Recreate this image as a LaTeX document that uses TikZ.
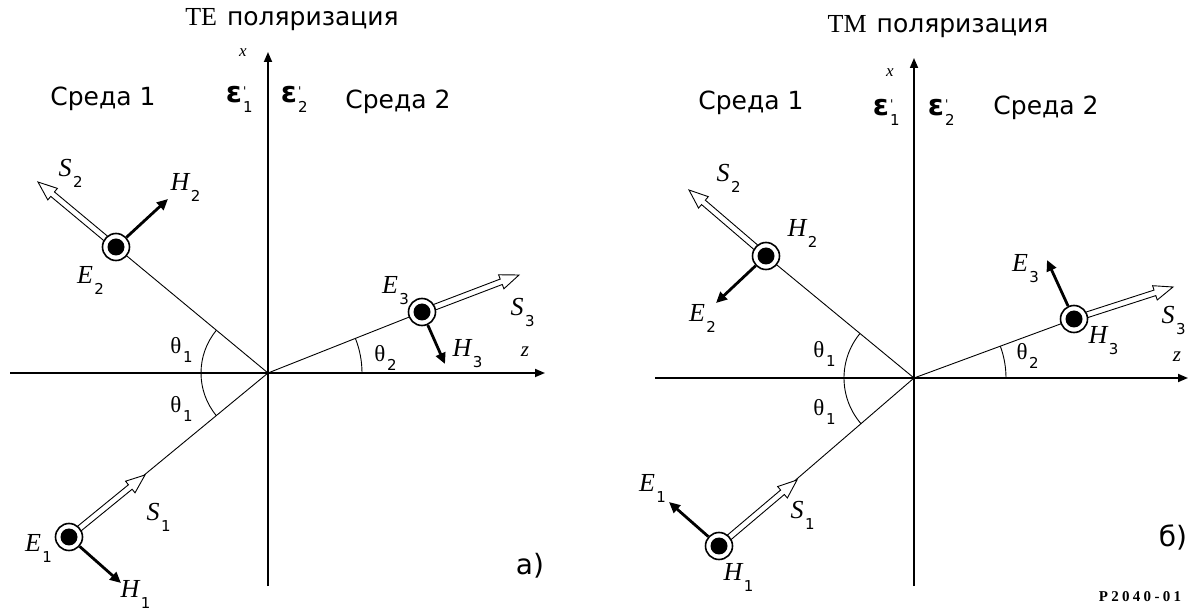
\documentclass[tikz,border=0pt]{standalone}
\usepackage{fontspec}
\setmainfont{Liberation Serif}
\newfontfamily\sansf{DejaVu Sans}
\usetikzlibrary{arrows.meta,calc}
\newcommand{\subf}{\sansf\upshape\mdseries\fontsize{15}{15}\selectfont}
\newcommand{\vl}[2]{{\itshape #1}\rlap{\kern1.5pt\smash{\raisebox{-11pt}{\subf #2}}}}
\newcommand{\thl}[1]{{\fontsize{23}{23}\selectfont θ}\rlap{\kern1.5pt\smash{\raisebox{-9pt}{\subf #1}}}}
\newcommand{\epl}[1]{{\sansf\bfseries\fontsize{29}{29}\selectfont ε}\rlap{\kern1pt\smash{\raisebox{7pt}{\sansf\fontsize{12}{12}\selectfont '}}}\rlap{\kern1pt\smash{\raisebox{-10pt}{\subf #1}}}}
\newcommand{\hollowarrow}[3]{%
  \coordinate (#3h) at ($(#2)!19pt!(#1)$);
  \draw[hollow] ($(#1)!2.9pt!90:(#2)$) -- ($(#3h)!2.9pt!90:(#2)$) -- ($(#3h)!7.5pt!90:(#2)$) -- (#2)
    -- ($(#3h)!7.5pt!-90:(#2)$) -- ($(#3h)!2.9pt!-90:(#2)$) -- ($(#1)!2.9pt!-90:(#2)$) -- cycle;}
\tikzset{
  axis/.style={line width=1.7pt, -{Triangle[length=10pt,width=8pt]}},
  ray/.style={line width=0.9pt},
  angarc/.style={line width=0.9pt},
  field/.style={line width=2.8pt, -{Triangle[length=11pt,width=10pt]}},
  ring/.style={circle, draw, line width=1.6pt, fill=white, minimum size=27pt, inner sep=0pt},
  hollow/.style={line width=0.9pt, fill=white, line join=miter},
  vlabel/.style={inner sep=0pt, font=\fontsize{26}{26}\selectfont},
  sreda/.style={inner sep=0pt, font=\sansf\fontsize{25}{25}\selectfont},
  ttl/.style={inner sep=0pt},
  axlabel/.style={inner sep=0pt, font=\itshape\fontsize{17}{17}\selectfont},
  zlabel/.style={inner sep=0pt, font=\itshape\fontsize{21}{21}\selectfont},
  panel/.style={inner sep=0pt, font=\sansf\fontsize{28}{28}\selectfont}
}
\newcommand{\ttext}[1]{{\fontsize{26}{26}\selectfont #1}\hspace{10pt}{\sansf\fontsize{25}{25}\selectfont поляризация}}
\begin{document}
\begin{tikzpicture}[x=1pt,y=1pt]
\useasboundingbox (0,0) rectangle (1195,611);
\fill[white] (0,0) rectangle (1195,611);
% ================= Panel a =================
\coordinate (Oa) at (268,238);
\coordinate (vtopa) at (268,559);
\coordinate (vbota) at (268,25);
\coordinate (hlefta) at (10,238);
\coordinate (hrighta) at (545,238);
\coordinate (c1a) at (69,74);
\coordinate (c2a) at (116,364);
\coordinate (c3a) at (422,299);
\coordinate (s1at) at (145,136);
\coordinate (s2at) at (38,429);
\coordinate (s3at) at (519,336);
\coordinate (h1at) at (121,28);
\coordinate (h2at) at (168,412);
\coordinate (h3at) at (445,247);
\draw[axis] (vbota) -- (vtopa);
\draw[axis] (hlefta) -- (hrighta);
\draw[ray] (Oa) -- (c1a);
\draw[ray] (Oa) -- (c2a);
\draw[ray] (Oa) -- (c3a);
\draw[angarc] (Oa) ++(140.3:67) arc[start angle=140.3, end angle=219.5, radius=67];
\draw[angarc] (Oa) ++(0:94) arc[start angle=0, end angle=21.6, radius=94];
\coordinate (s1as) at ($(c1a)!12pt!(s1at)$);
\coordinate (s2as) at ($(c2a)!12pt!(s2at)$);
\coordinate (s3as) at ($(c3a)!12pt!(s3at)$);
\hollowarrow{s1as}{s1at}{ha1}
\hollowarrow{s2as}{s2at}{ha2}
\hollowarrow{s3as}{s3at}{ha3}
\node[ring] (C1a) at (c1a) {};
\node[ring] (C2a) at (c2a) {};
\node[ring] (C3a) at (c3a) {};
\fill (C1a.center) circle (8.5);
\fill (C2a.center) circle (8.5);
\fill (C3a.center) circle (8.5);
\draw[field] (C1a) -- (h1at);
\draw[field] (C2a) -- (h2at);
\draw[field] (C3a) -- (h3at);
\node[axlabel] (xa) at (243,558) {x};
\node[zlabel] (za) at (525,259) {z};
\node[vlabel] (epa1) at (234,516) {\epl{1}};
\node[vlabel] (epa2) at (289,516) {\epl{2}};
\node[sreda] (sr1a) at (103,512) {Среда 1};
\node[sreda] (sr2a) at (398,509) {Среда 2};
\node[ttl] (ta) at (292,591) {\ttext{TE}};
\node[vlabel] (le1a) at (33,68) {\vl{E}{1}};
\node[vlabel] (lh1a) at (130,22) {\vl{H}{1}};
\node[vlabel] (ls1a) at (153,99) {\vl{S}{1}};
\node[vlabel] (ls2a) at (65,443) {\vl{S}{2}};
\node[vlabel] (lh2a) at (180,429) {\vl{H}{2}};
\node[vlabel] (le2a) at (85,336) {\vl{E}{2}};
\node[vlabel] (le3a) at (390,326) {\vl{E}{3}};
\node[vlabel] (ls3a) at (517,304) {\vl{S}{3}};
\node[vlabel] (lh3a) at (462,263) {\vl{H}{3}};
\node[vlabel] (t1a) at (176,265) {\thl{1}};
\node[vlabel] (t1b) at (176,206) {\thl{1}};
\node[vlabel] (t2a) at (380,257) {\thl{2}};
\node[panel] (pa) at (530,45) {a)};
% ================= Panel b =================
\coordinate (Ob) at (914,233);
\coordinate (vtopb) at (914,553);
\coordinate (vbotb) at (914,25);
\coordinate (hleftb) at (655,233);
\coordinate (hrightb) at (1188,233);
\coordinate (c1b) at (719,65);
\coordinate (c2b) at (766,355);
\coordinate (c3b) at (1074,292);
\coordinate (s1bt) at (797,131);
\coordinate (s2bt) at (689,421);
\coordinate (s3bt) at (1173,324);
\coordinate (e1bt) at (669,109);
\coordinate (e2bt) at (716,308);
\coordinate (e3bt) at (1047,351);
\draw[axis] (vbotb) -- (vtopb);
\draw[axis] (hleftb) -- (hrightb);
\draw[ray] (Ob) -- (c1b);
\draw[ray] (Ob) -- (c2b);
\draw[ray] (Ob) -- (c3b);
\draw[angarc] (Ob) ++(140.5:70) arc[start angle=140.5, end angle=220.7, radius=70];
\draw[angarc] (Ob) ++(0:92) arc[start angle=0, end angle=20.2, radius=92];
\coordinate (s1bs) at ($(c1b)!12pt!(s1bt)$);
\coordinate (s2bs) at ($(c2b)!12pt!(s2bt)$);
\coordinate (s3bs) at ($(c3b)!12pt!(s3bt)$);
\hollowarrow{s1bs}{s1bt}{hb1}
\hollowarrow{s2bs}{s2bt}{hb2}
\hollowarrow{s3bs}{s3bt}{hb3}
\node[ring] (C1b) at (c1b) {};
\node[ring] (C2b) at (c2b) {};
\node[ring] (C3b) at (c3b) {};
\fill (C1b.center) circle (8.5);
\fill (C2b.center) circle (8.5);
\fill (C3b.center) circle (8.5);
\draw[field] (C1b) -- (e1bt);
\draw[field] (C2b) -- (e2bt);
\draw[field] (C3b) -- (e3bt);
\node[axlabel] (xb) at (890,538) {x};
\node[zlabel] (zb) at (1177,254) {z};
\node[vlabel] (epb1) at (881,503) {\epl{1}};
\node[vlabel] (epb2) at (936,503) {\epl{2}};
\node[sreda] (sr1b) at (751,508) {Среда 1};
\node[sreda] (sr2b) at (1046,503) {Среда 2};
\node[ttl] (tb) at (938,584) {\ttext{TM}};
\node[vlabel] (le1b) at (647,128) {\vl{E}{1}};
\node[vlabel] (ls1b) at (797,101) {\vl{S}{1}};
\node[vlabel] (lh1b) at (733,39) {\vl{H}{1}};
\node[vlabel] (ls2b) at (723,438) {\vl{S}{2}};
\node[vlabel] (lh2b) at (797,383) {\vl{H}{2}};
\node[vlabel] (le2b) at (697,298) {\vl{E}{2}};
\node[vlabel] (le3b) at (1020,348) {\vl{E}{3}};
\node[vlabel] (lh3b) at (1098,276) {\vl{H}{3}};
\node[vlabel] (ls3b) at (1168,296) {\vl{S}{3}};
\node[vlabel] (t1c) at (819,261) {\thl{1}};
\node[vlabel] (t1d) at (819,203) {\thl{1}};
\node[vlabel] (t2b) at (1022,259) {\thl{2}};
\node[panel] (pb) at (1173,74) {б)};
\node[inner sep=0pt, font=\bfseries\fontsize{15}{15}\selectfont\addfontfeature{LetterSpace=22}] (code) at (1140,14) {P2040-01};
\end{tikzpicture}
\end{document}
